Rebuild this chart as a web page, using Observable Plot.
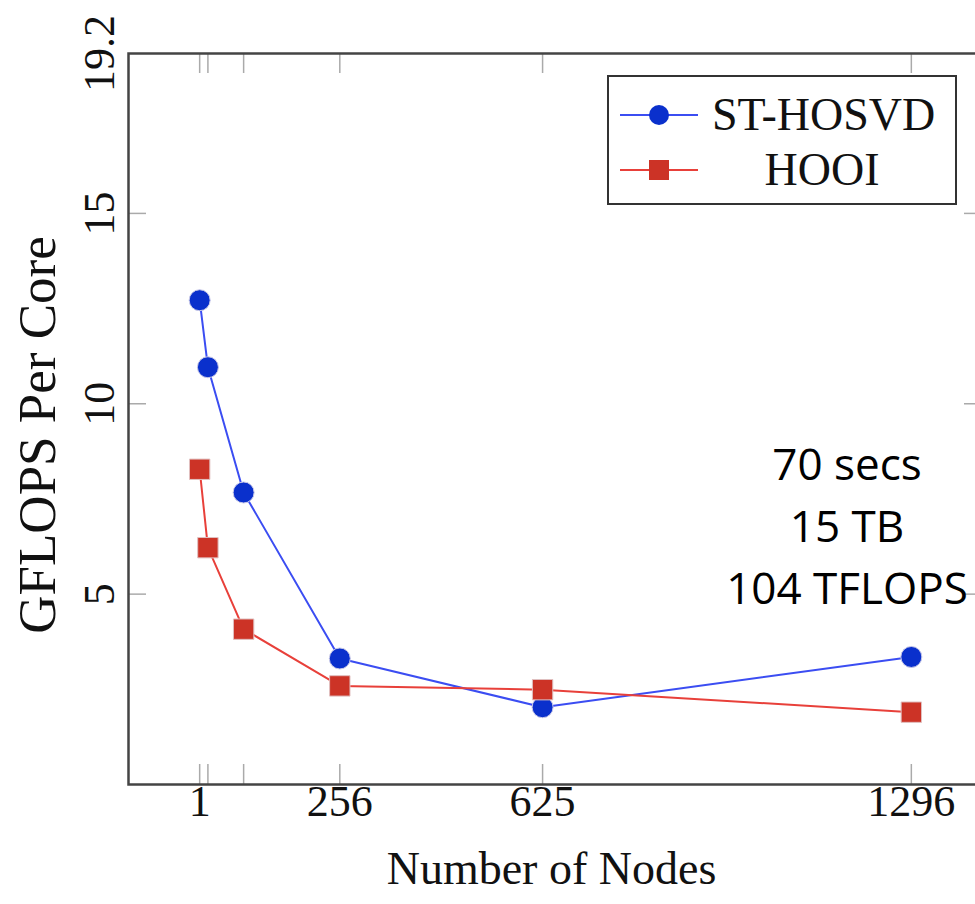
<!DOCTYPE html>
<html>
<head>
<meta charset="utf-8">
<script src="https://cdn.jsdelivr.net/npm/d3@7"></script>
<script src="https://cdn.jsdelivr.net/npm/@observablehq/plot@0.6"></script>
<style>
  html, body { margin: 0; padding: 0; background: #fff; overflow: hidden; }
  #wrap { position: relative; width: 975px; height: 904px; overflow: hidden; }
  #legend { position: absolute; left: 607px; top: 75px; width: 346px; height: 126px;
    border: 2.5px solid #333; background: #fff; font-family: "Liberation Serif", serif; font-size: 46px; }
  .row { position: absolute; left: 0; width: 100%; height: 50px; }
  .row svg { position: absolute; left: 11px; top: 0; }
  .row span { position: absolute; left: 103px; width: 220px; text-align: center; top: 0; line-height: 50px;
    color: #111; white-space: nowrap; }
  #note { position: absolute; left: 697px; width: 300px; top: 432px; text-align: center;
    font-family: "Open Sans", sans-serif; font-size: 44px; line-height: 62px; color: #000; }
</style>
</head>
<body>
<div id="wrap"><div id="chart"></div><div id="legend"></div><div id="note"></div></div>
<script>
// ---- data ----
const nodes = [1, 16, 81, 256, 625, 1296];
const stHosvd = [12.72, 10.96, 7.67, 3.31, 2.03, 3.35];
const hooi = [8.28, 6.22, 4.08, 2.59, 2.49, 1.90];
const seriesNames = ["ST-HOSVD", "HOOI"];
const xTickLabels = [1, 256, 625, 1296];
const yTickLabels = [5, 10, 15, 19.2];
const yTickMarks = [5, 10, 15];
const xLabel = "Number of Nodes";
const yLabel = "GFLOPS Per Core";
const annotation = ["70 secs", "15 TB", "104 TFLOPS"];

const blueLine = "#3b4df2", blueFill = "#0a30cc";
const redLine = "#e8403a", redFill = "#cc3326";

const rowsBlue = nodes.map((n, i) => ({n, v: stHosvd[i], s: seriesNames[0]}));
const rowsRed = nodes.map((n, i) => ({n, v: hooi[i], s: seriesNames[1]}));

const marginLeft = 128, marginRight = -7, marginTop = 53, marginBottom = 120;
const width = 975, height = 904;
const frameW = width - marginLeft - marginRight;
const frameH = height - marginTop - marginBottom;
const tickLen = 20, yTickLen = 18;
const serif = "Liberation Serif, serif";

const chart = Plot.plot({
  width, height, marginLeft, marginRight, marginTop, marginBottom,
  style: {fontFamily: serif, background: "white", overflow: "visible"},
  x: {domain: [-128.5, 1425.5], axis: null},
  y: {domain: [0, 19.2], axis: null},
  marks: [
    Plot.tickX(nodes, {x: d => d, stroke: "#aaa", strokeWidth: 1.5, insetTop: frameH - tickLen}),
    Plot.tickX(nodes, {x: d => d, stroke: "#aaa", strokeWidth: 1.5, insetBottom: frameH - tickLen}),
    Plot.tickY(yTickMarks, {y: d => d, stroke: "#aaa", strokeWidth: 1.5, insetRight: frameW - yTickLen}),
    Plot.tickY(yTickMarks, {y: d => d, stroke: "#aaa", strokeWidth: 1.5, insetLeft: frameW - yTickLen}),
    Plot.frame({stroke: "#444", strokeWidth: 2.5}),
    Plot.line(rowsBlue, {x: "n", y: "v", stroke: blueLine, strokeWidth: 2}),
    Plot.dot(rowsBlue, {x: "n", y: "v", r: 10.5, fill: blueFill, stroke: "#c8c8e8", strokeWidth: 1}),
    Plot.line(rowsRed, {x: "n", y: "v", stroke: redLine, strokeWidth: 2}),
    Plot.dot(rowsRed, {x: "n", y: "v", r: 11.5, symbol: "square", fill: redFill, stroke: "#e0c0c0", strokeWidth: 1}),
    Plot.text(xTickLabels, {x: d => d, frameAnchor: "bottom", dy: 31, text: d => String(d), fontSize: 44, fill: "#111", textAnchor: "middle"}),
    Plot.text(yTickLabels, {y: d => d, frameAnchor: "left", dx: -29, rotate: -90, textAnchor: "middle", text: d => String(d), fontSize: 44, fill: "#111"}),
    Plot.text([xLabel], {frameAnchor: "bottom", dy: 99, dx: -4, textAnchor: "middle", text: d => d, fontSize: 46, fill: "#111"}),
    Plot.text([yLabel], {frameAnchor: "left", dx: -90, dy: 16, rotate: -90, textAnchor: "middle", text: d => d, fontSize: 53, fill: "#111"})
  ]
});
document.getElementById("chart").appendChild(chart);

// legend
const legend = d3.select("#legend");
const legendItems = [
  {name: seriesNames[0], line: blueLine, fill: blueFill, shape: "circle"},
  {name: seriesNames[1], line: redLine, fill: redFill, shape: "square"}
];
legendItems.forEach((it, i) => {
  const row = legend.append("div").attr("class", "row").style("top", (13 + i * 55) + "px");
  const svg = row.append("svg").attr("width", 80).attr("height", 50);
  svg.append("line").attr("x1", 0).attr("x2", 78).attr("y1", 25).attr("y2", 25)
    .attr("stroke", it.line).attr("stroke-width", 2);
  if (it.shape === "circle") {
    svg.append("circle").attr("cx", 39).attr("cy", 25).attr("r", 10).attr("fill", it.fill);
  } else {
    svg.append("rect").attr("x", 29).attr("y", 15).attr("width", 20).attr("height", 20).attr("fill", it.fill);
  }
  row.append("span").text(it.name);
});

// annotation
d3.select("#note").selectAll("div").data(annotation).join("div").text(d => d);
</script>
</body>
</html>
